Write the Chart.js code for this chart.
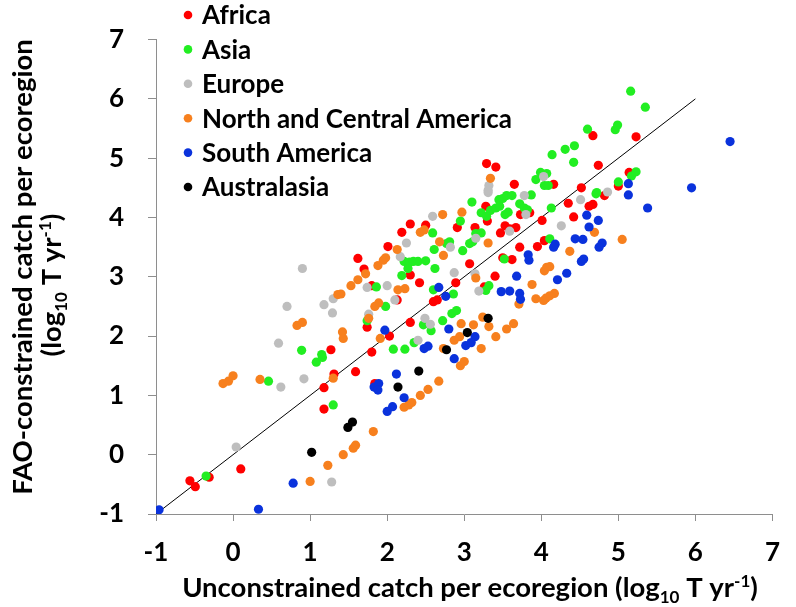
<!DOCTYPE html>
<html>
<head>
<meta charset="utf-8">
<script src="https://cdn.jsdelivr.net/npm/chart.js@4.4.1/dist/chart.umd.min.js"></script>
<style>
  html, body { margin: 0; padding: 0; background: #fff; }
  #c { display: block; }
</style>
</head>
<body>
<canvas id="c" width="796" height="607" style="width:796px;height:607px"></canvas>
<script>
// ---------------- DATA ----------------
const seriesNames = ["Africa", "Asia", "Europe", "North and Central America", "South America", "Australasia"];
const xTicks = [-1, 0, 1, 2, 3, 4, 5, 6, 7];
const yTicks = [-1, 0, 1, 2, 3, 4, 5, 6, 7];
const lineX = [-1, 6];
const lineY = [-1, 6];

const africa = [
  [0.10,-0.24],[-0.56,-0.44],[-0.49,-0.54],[-0.31,-0.38],[1.31,1.36],[1.59,1.40],[1.18,1.13],[1.18,0.77],
  [1.84,1.20],[2.91,3.83],[2.30,3.89],[2.50,3.87],[2.19,3.75],[2.01,3.51],[1.62,3.31],[1.70,3.13],
  [2.30,3.03],[1.80,2.85],[2.42,2.90],[2.89,2.90],[2.13,2.61],[2.60,2.58],[2.65,2.61],[1.74,2.15],
  [1.27,1.77],[2.30,2.23],[2.03,2.00],[1.80,1.73],[3.28,4.19],[3.30,3.94],[3.73,4.05],[3.85,4.08],
  [4.35,4.24],[4.62,4.19],[4.67,4.22],[4.82,4.37],[3.14,3.83],[3.47,3.74],[3.53,3.86],[3.59,3.81],
  [3.67,3.83],[4.01,3.95],[4.42,4.01],[4.04,3.61],[3.95,3.51],[3.72,3.50],[3.07,3.22],[3.50,3.32],
  [3.62,3.29],[3.40,3.01],[3.26,2.83],[4.67,5.38],[4.74,4.88],[3.29,4.91],[3.41,4.85],[3.65,4.56],
  [4.16,4.56],[4.52,4.50],[5.00,4.53],[5.23,5.36],[5.14,4.76]
];
const asia = [
  [-0.35,-0.36],[0.46,1.24],[0.89,1.76],[1.08,1.56],[1.16,1.64],[1.30,0.84],[2.95,3.94],[2.59,3.74],
  [2.81,3.59],[2.77,3.56],[2.61,3.46],[2.98,3.44],[2.22,3.26],[2.29,3.25],[2.34,3.26],[2.40,3.26],
  [2.50,3.27],[2.27,3.14],[2.62,3.14],[2.19,3.02],[1.86,2.83],[2.60,2.78],[2.86,2.71],[1.98,2.50],
  [1.74,2.26],[1.15,1.69],[2.47,2.19],[2.57,2.09],[2.72,2.26],[2.84,2.38],[2.90,2.43],[2.08,1.78],
  [2.23,1.78],[2.35,1.89],[3.10,4.26],[3.45,4.30],[3.50,4.32],[3.55,4.37],[3.62,4.37],[3.87,4.38],
  [3.72,4.23],[3.78,4.16],[3.82,4.13],[3.22,4.08],[3.29,4.02],[3.34,4.12],[3.41,4.16],[3.46,4.19],
  [3.53,4.05],[3.57,4.09],[4.13,4.16],[4.71,4.40],[3.15,3.73],[3.22,3.74],[3.07,3.56],[3.11,3.59],
  [4.11,3.64],[3.52,3.30],[3.32,2.85],[3.28,2.77],[4.60,5.49],[4.96,5.48],[4.99,5.56],[4.14,5.06],
  [4.31,5.15],[4.43,5.21],[4.42,4.93],[3.99,4.76],[4.07,4.74],[3.93,4.64],[4.04,4.54],[4.09,4.54],
  [5.00,4.60],[4.72,4.42],[5.16,6.13],[5.35,5.86],[5.23,4.77],[5.17,4.70]
];
const europe = [
  [0.90,3.14],[0.70,2.50],[0.59,1.88],[0.62,1.14],[0.92,1.28],[0.04,0.13],[1.28,-0.46],[2.59,4.02],
  [2.25,3.57],[2.82,3.50],[2.17,3.34],[2.87,3.07],[1.74,2.82],[2.00,2.85],[2.10,2.61],[1.30,2.63],
  [1.18,2.53],[1.29,2.39],[1.76,2.37],[2.49,2.30],[2.56,2.20],[2.40,1.93],[3.31,4.42],[3.78,4.37],
  [3.80,4.05],[4.51,4.30],[4.86,4.43],[3.59,3.77],[3.15,3.65],[4.26,3.86],[3.14,3.05],[3.19,2.76],
  [3.32,4.54],[3.31,4.46],[4.03,4.69]
];
const northCentralAmerica = [
  [0.83,2.18],[0.90,2.23],[-0.13,1.20],[-0.06,1.24],[0.00,1.33],[0.35,1.27],[1.00,-0.45],[1.30,1.29],
  [1.82,0.39],[1.59,0.16],[1.56,0.11],[1.43,0.00],[1.23,-0.18],[2.22,0.80],[2.28,0.84],[2.32,0.88],
  [2.43,1.00],[2.53,1.10],[2.67,1.24],[2.95,1.50],[3.00,1.57],[2.72,4.05],[2.97,4.09],[2.43,3.75],
  [2.48,3.79],[2.13,3.46],[2.68,3.59],[2.73,3.36],[1.98,3.32],[1.95,3.28],[1.88,3.19],[1.72,3.05],
  [1.62,2.95],[1.53,2.85],[2.14,2.78],[2.23,2.80],[1.40,2.71],[1.36,2.70],[1.89,2.56],[1.84,2.50],
  [1.76,2.30],[1.42,2.07],[1.43,1.96],[2.96,2.21],[1.91,1.96],[2.73,1.79],[2.87,1.93],[2.94,1.99],
  [3.31,3.57],[4.69,3.75],[5.05,3.63],[4.37,3.43],[4.07,3.16],[4.11,3.17],[4.04,3.10],[3.15,2.98],
  [3.88,2.87],[3.71,2.54],[4.17,2.72],[4.11,2.68],[4.06,2.64],[4.03,2.60],[3.93,2.63],[3.24,2.32],
  [3.12,2.19],[3.32,2.16],[3.64,2.21],[3.55,2.12],[3.41,1.99],[3.22,1.79],[3.34,4.66]
];
const southAmerica = [
  [-0.96,-0.93],[0.33,-0.92],[0.78,-0.48],[1.83,1.14],[1.89,1.20],[1.88,1.09],[2.12,1.36],[2.22,0.96],
  [2.07,0.81],[2.00,0.73],[2.87,1.62],[2.67,2.82],[2.76,2.67],[2.80,2.12],[1.97,2.10],[2.48,1.79],
  [2.53,1.83],[3.02,1.84],[3.14,1.99],[3.09,1.89],[4.59,4.04],[4.74,3.95],[4.62,3.84],[4.44,3.64],
  [4.54,3.63],[4.79,3.57],[4.75,3.50],[4.18,3.55],[4.16,3.50],[3.83,3.37],[3.84,3.28],[4.55,3.30],
  [4.52,3.26],[4.33,3.06],[3.68,3.01],[4.21,2.95],[3.48,2.75],[3.59,2.76],[3.72,2.72],[3.73,2.62],
  [6.45,5.28],[5.13,4.57],[5.13,4.38],[5.95,4.50],[5.38,4.16]
];
const australasia = [
  [1.02,0.04],[1.55,0.55],[1.49,0.46],[2.41,1.41],[2.14,1.14],[2.77,1.77],[3.04,2.06],[3.31,2.30]
];

// ---------------- STYLE ----------------
const colors = ["#FF0000", "#22EE22", "#BEBEBE", "#F7801E", "#0A32DC", "#000000"];
const FONT = "Lato";
const axisColor = "#8E8E8E";

const seriesData = [africa, asia, europe, northCentralAmerica, southAmerica, australasia];
const datasets = seriesData.map((arr, i) => ({
  type: "scatter",
  label: seriesNames[i],
  data: arr.map(p => ({ x: p[0], y: p[1] })),
  backgroundColor: colors[i],
  borderWidth: 0,
  pointRadius: 4.6,
  pointHoverRadius: 4.6,
  order: 6 - i
}));
datasets.push({
  type: "line",
  label: "1:1",
  data: lineX.map((x, i) => ({ x: x, y: lineY[i] })),
  borderColor: "#000",
  borderWidth: 1,
  pointRadius: 0,
  fill: false,
  order: 10
});

function drawRich(ctx, parts, cx, baseY, size) {
  const small = size * 0.62;
  let total = 0;
  parts.forEach(p => {
    ctx.font = "bold " + (p.s ? small : size) + "px " + FONT;
    p.w = ctx.measureText(p.t).width;
    total += p.w;
  });
  let x = cx - total / 2;
  ctx.textAlign = "left";
  ctx.textBaseline = "alphabetic";
  parts.forEach(p => {
    ctx.font = "bold " + (p.s ? small : size) + "px " + FONT;
    let dy = 0;
    if (p.s === -1) dy = size * 0.22;
    if (p.s === 1) dy = -size * 0.36;
    ctx.fillText(p.t, x, baseY + dy);
    x += p.w;
  });
}

const decorPlugin = {
  id: "decor",
  afterDraw(chart) {
    const ctx = chart.ctx;
    ctx.save();
    ctx.fillStyle = "#000";
    // legend
    seriesNames.forEach((name, i) => {
      const y = 15 + i * 34.4;
      ctx.beginPath();
      ctx.arc(188, y, 4.3, 0, Math.PI * 2);
      ctx.fillStyle = colors[i];
      ctx.fill();
      ctx.fillStyle = "#000";
      ctx.font = "bold 26px " + FONT;
      ctx.textAlign = "left";
      ctx.textBaseline = "middle";
      ctx.fillText(name, 202, y + 1);
    });
    // x title
    drawRich(ctx, [
      { t: "Unconstrained catch per ecoregion (log" },
      { t: "10", s: -1 },
      { t: " T yr" },
      { t: "-1", s: 1 },
      { t: ")" }
    ], 470, 597, 27.5);
    // y title
    ctx.save();
    ctx.translate(0, 267);
    ctx.rotate(-Math.PI / 2);
    drawRich(ctx, [{ t: "FAO-constrained catch per ecoregion" }], 0, 32, 27.5);
    drawRich(ctx, [
      { t: "(log" },
      { t: "10", s: -1 },
      { t: " T yr" },
      { t: "-1", s: 1 },
      { t: ")" }
    ], -18, 61, 27.5);
    ctx.restore();
    ctx.restore();
  }
};

new Chart(document.getElementById("c"), {
  type: "scatter",
  data: { datasets: datasets },
  options: {
    responsive: false,
    animation: false,
    devicePixelRatio: 1,
    layout: { padding: { top: 23, left: 0, right: 8, bottom: 0 } },
    plugins: { legend: { display: false }, tooltip: { enabled: false } },
    scales: {
      x: {
        type: "linear",
        min: xTicks[0], max: xTicks[xTicks.length - 1],
        afterBuildTicks: s => { s.ticks = xTicks.map(v => ({ value: v })); },
        afterFit: s => { s.height = 93; },
        border: { color: axisColor, width: 1 },
        grid: { drawOnChartArea: false, drawTicks: true, tickLength: 7, color: axisColor },
        ticks: { color: "#000", padding: 16, font: { family: FONT, size: 26, weight: "bold" },
                 callback: v => String(v) }
      },
      y: {
        type: "linear",
        min: yTicks[0], max: yTicks[yTicks.length - 1],
        afterBuildTicks: s => { s.ticks = yTicks.map(v => ({ value: v })); },
        afterFit: s => { s.width = 156; },
        border: { color: axisColor, width: 1 },
        grid: { drawOnChartArea: false, drawTicks: true, tickLength: 8, color: axisColor },
        ticks: { color: "#000", padding: 24, font: { family: FONT, size: 26, weight: "bold" },
                 callback: v => String(v) }
      }
    }
  },
  plugins: [decorPlugin]
});
</script>
</body>
</html>
